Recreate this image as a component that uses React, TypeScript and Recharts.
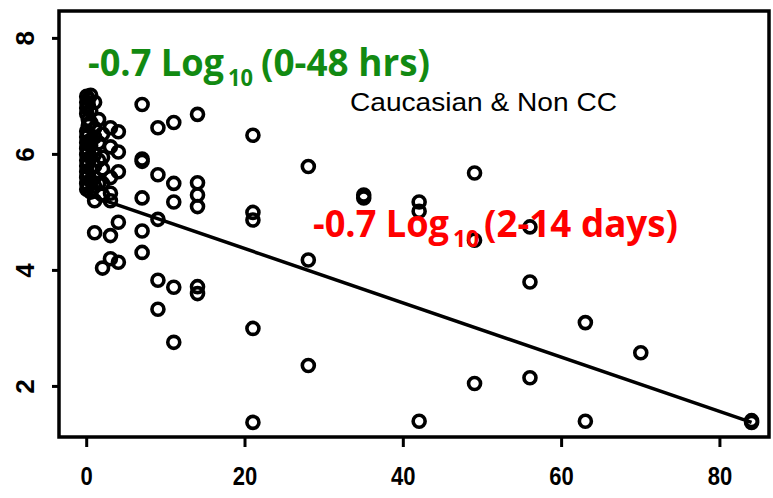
import React from 'react';
import { ScatterChart, Scatter, XAxis, YAxis, ReferenceArea } from 'recharts';

// sampling day (x) and log10 viral load values read at that day (y)
const sampleDays = [0, 0.2, 0.5, 1, 1.5, 2, 3, 4, 7, 9, 11, 14, 21, 28, 35, 42, 49, 56, 63, 70, 84];
const log10Loads = [
  [7.0, 6.9, 6.8, 6.7, 6.4, 6.3, 6.2, 6.1, 6.0, 5.9, 5.8, 5.7, 5.6, 5.5, 5.4],
  [6.95, 6.85, 6.6, 6.5, 6.35, 6.05, 5.85, 5.65, 5.45],
  [7.02, 6.75, 6.55, 6.25, 6.15, 5.95, 5.75, 5.55, 5.35],
  [6.9, 6.45, 6.3, 6.0, 5.8, 5.6, 5.45, 5.2, 4.65],
  [6.6, 6.2, 5.9, 5.5],
  [6.35, 5.95, 5.75, 5.5, 5.3, 4.04],
  [6.46, 6.13, 5.6, 5.33, 5.2, 4.6, 4.2],
  [6.39, 6.04, 5.7, 4.83, 4.14],
  [6.86, 5.92, 5.88, 5.25, 4.68, 4.31],
  [6.46, 5.65, 4.88, 3.83, 3.33],
  [6.55, 5.5, 5.18, 3.71, 2.76],
  [6.69, 5.51, 5.3, 5.1, 3.72, 3.6],
  [6.33, 5.0, 4.87, 3.0, 1.38],
  [5.79, 4.18, 2.36],
  [5.3, 5.25],
  [5.18, 5.02, 1.4],
  [5.68, 4.52, 2.05],
  [4.75, 3.8, 2.15],
  [3.1, 1.4],
  [2.58],
  [1.41, 1.38],
];

// fitted regression line end points
const fitDays = [0, 84];
const fitLoads = [5.31, 1.38];

const xTicks = [0, 20, 40, 60, 80];
const yTicks = [2, 4, 6, 8];
const xDomain = [-3.5, 86.2];
const yDomain = [1.128, 8.472];

const points = sampleDays.flatMap((d, i) => log10Loads[i].map((v) => ({ x: d, y: v })));
const fitLine = fitDays.map((d, i) => ({ x: d, y: fitLoads[i] }));

const openCircle = (p: any) => (
  <circle cx={p.cx} cy={p.cy} r={6} fill="none" stroke="#000" strokeWidth={3.6} />
);

const tickFont = "'Liberation Sans', Arial, sans-serif";

const XTick = (props: any) => (
  <text
    x={props.x}
    y={props.y + 36}
    textAnchor="middle"
    fontSize={25}
    fontWeight="bold"
    fontFamily={tickFont}
    fill="#000"
    transform={`translate(${props.x * 0.12},0) scale(0.88,1)`}
  >
    {props.payload.value}
  </text>
);

const YTick = (props: any) => (
  <text
    transform={`translate(${props.x - 16},${props.y}) rotate(-90)`}
    textAnchor="middle"
    fontSize={26}
    fontWeight="bold"
    fontFamily={tickFont}
    fill="#000"
  >
    {props.payload.value}
  </text>
);

const boldFont = "'Open Sans', 'Noto Sans', sans-serif";

export default function App() {
  return (
    <div style={{ position: 'absolute', left: 0, top: 0, width: 773, height: 498, background: '#fff' }}>
      <ScatterChart width={773} height={498} margin={{ top: 11, right: 4, bottom: 0, left: 0 }}>
        <XAxis
          type="number"
          dataKey="x"
          domain={xDomain}
          ticks={xTicks}
          axisLine={false}
          tickLine={{ stroke: '#000', strokeWidth: 3 }}
          tickSize={10}
          height={61}
          tick={<XTick />}
        />
        <YAxis
          type="number"
          dataKey="y"
          domain={yDomain}
          ticks={yTicks}
          axisLine={false}
          tickLine={{ stroke: '#000', strokeWidth: 3 }}
          tickSize={7}
          width={59}
          tick={<YTick />}
        />
        <ReferenceArea
          x1={xDomain[0]}
          x2={xDomain[1]}
          y1={yDomain[0]}
          y2={yDomain[1]}
          fill="none"
          fillOpacity={0}
          stroke="#000"
          strokeWidth={3.5}
        />
        <Scatter data={points} shape={openCircle} isAnimationActive={false} />
        <Scatter
          data={fitLine}
          line={{ stroke: '#000', strokeWidth: 3.5 }}
          shape={() => <g />}
          isAnimationActive={false}
        />
      </ScatterChart>
      <svg
        width={773}
        height={498}
        style={{ position: 'absolute', left: 0, top: 0, pointerEvents: 'none' }}
      >
        <text x={350} y={111} fontSize={25} fontFamily={tickFont} fill="#000" textLength={267} lengthAdjust="spacingAndGlyphs">
          Caucasian &amp; Non CC
        </text>
        <g fill="#128a12" fontFamily={boldFont} fontWeight="bold">
          <text x={88} y={76} fontSize={38} textLength={136} lengthAdjust="spacingAndGlyphs">-0.7 Log</text>
          <text x={228} y={86} fontSize={24} textLength={25} lengthAdjust="spacingAndGlyphs">10</text>
          <text x={261} y={76} fontSize={38} textLength={169} lengthAdjust="spacingAndGlyphs">(0-48 hrs)</text>
        </g>
        <g fill="#ff0000" fontFamily={boldFont} fontWeight="bold">
          <text x={313} y={237} fontSize={38} textLength={136} lengthAdjust="spacingAndGlyphs">-0.7 Log</text>
          <text x={453} y={247} fontSize={24} textLength={26} lengthAdjust="spacingAndGlyphs">10</text>
          <text x={484} y={237} fontSize={38} textLength={194} lengthAdjust="spacingAndGlyphs">(2-14 days)</text>
        </g>
      </svg>
    </div>
  );
}
